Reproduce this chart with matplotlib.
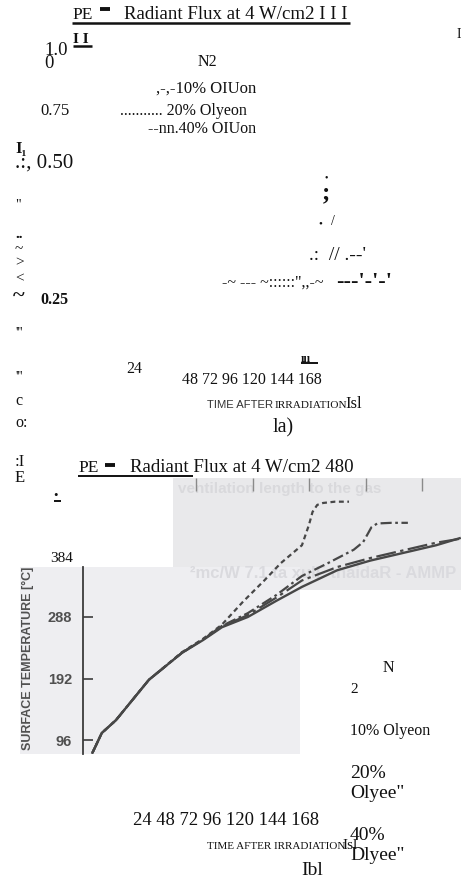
import matplotlib
matplotlib.use("Agg")
import matplotlib.pyplot as plt
from matplotlib.patches import Rectangle

# ---------------- data ----------------
series_labels = ["N2", "10% Oxygen", "20% Oxygen", "40% Oxygen"]
y_ticks = [96, 192, 288]
x_ticks_top = [48, 72, 96, 120, 144]

time_n2 = [4, 8, 14, 28, 42, 51, 59, 70, 82, 93, 108, 122, 136, 150, 160]
temp_n2 = [76, 107, 127, 190, 232, 252, 272, 288, 313, 335, 361, 376, 388, 400, 411]

time_o10 = [4, 8, 14, 28, 42, 51, 59, 68, 77, 84, 93, 96, 97.5, 99.5, 102, 107, 113]
temp_o10 = [76, 107, 127, 190, 233, 254, 276, 312, 345, 372, 400, 432, 452, 463, 466, 468, 468]

time_o20 = [4, 8, 14, 28, 42, 51, 59, 70, 82, 93, 104, 115, 119, 121, 122.5, 125, 131, 138]
temp_o20 = [76, 107, 127, 190, 232, 253, 274, 294, 322, 352, 372, 393, 405, 418, 428, 434, 435, 435]

time_o40 = [4, 8, 14, 28, 42, 51, 59, 70, 82, 93, 108, 122, 136, 150, 160]
temp_o40 = [76, 107, 127, 190, 232, 253, 273, 291, 318, 345, 366, 380, 392, 404, 410]

# ---------------- figure ----------------
W, H = 461, 880
fig = plt.figure(figsize=(W / 100, H / 100), dpi=100)
bg = fig.add_axes([0, 0, 1, 1])
bg.set_xlim(0, W)
bg.set_ylim(H, 0)
bg.axis("off")

SERIF = ["Liberation Serif", "DejaVu Serif"]
SANS = ["Liberation Sans", "DejaVu Sans"]
INK = "#111111"


def T(x, y, s, size, family=SERIF, **kw):
    kw.setdefault("color", INK)
    kw.setdefault("ha", "left")
    kw.setdefault("va", "baseline")
    return bg.text(x, y, s, fontsize=size, family=family, **kw)


def uline(x0, x1, y, lw=1.6):
    bg.plot([x0, x1], [y, y], color=INK, lw=lw, solid_capstyle="butt")


# ---- panel (a): OCR text remnants ----
T(72, 19, "PE", 12.5)
uline(100, 110, 9, lw=2.8)
T(124, 19, "Radiant Flux at 4 W/cm2 I I I", 13.6)
uline(72, 350, 23, lw=1.8)
T(73, 43, "I I", 11, weight="bold")
uline(73, 92, 46, lw=1.8)
T(457, 38, "I", 10)
T(44, 55, "1.0", 13.5)
T(44, 68, "0", 13.5)
T(198, 66, "N2", 11.5)
T(256, 92.5, ",-,-10% OIUon", 12, ha="right")
T(40, 115, "0.75", 12)
T(120, 115, "........... 20% Olyeon", 11.5)
T(256, 133, "--nn.40% OIUon", 11.5, ha="right")
T(15, 153, "I\u2081", 12, weight="bold")
T(15, 168, ".:, 0.50", 15)
T(322, 199, ";", 18, weight="bold")
T(324.5, 180, "\u2022", 7)
T(15, 208, "\"", 10)
T(318, 226, "\u2022", 8)
T(331, 225, "/", 10)
T(15, 238, "..", 11, weight="bold")
T(15, 253, "~", 11)
T(15, 266, ">", 11)
T(15, 282, "<", 11)
T(13, 302, "~", 16, weight="bold")
T(40, 304, "0.25", 11.5, weight="bold")
T(309, 260, ".:  // .--'", 14)
T(222, 287, "-~ --- ~::::::\",,-~", 11.5)
T(336, 287, "---'-'-'", 16, weight="bold")
T(15, 337, "'''", 10)
T(301, 362, "\u0131\u0131\u0131", 8.5, weight="bold")
uline(301, 318, 363.5, lw=1.4)
T(126, 373, "24", 11.5)
T(15, 380, "'''", 10)
T(182, 384, "48 72 96 120 144 168", 11.5)
T(15, 405, "c", 11.5)
T(207, 408, "TIME AFTER", 8.1, family=SANS, color="#333333")
T(275, 408, "IRRADIATION", 8.1)
T(345, 408, "Isl", 12)
T(15, 427, "o:", 11.5)
T(273, 432, "la)", 14.5)

# ---- panel (b) ----
T(15, 466, ":I", 12)
T(15, 482, "E", 12)
T(78, 472, "PE", 12.5)
uline(105, 115, 465, lw=2.8)
T(130, 472, "Radiant Flux at 4 W/cm2 480", 13.6)
uline(78, 193, 476, lw=1.4)
T(53, 499, "\u2022", 9)
uline(54, 61, 501, lw=1.4)
T(50, 562, "384", 11)

# scanned background patches
top_patch = Rectangle((173, 478), 288, 112, facecolor="#e9e9eb", edgecolor="none", zorder=0)
left_patch = Rectangle((20, 567), 280, 187, facecolor="#eeeef1", edgecolor="none", zorder=0)
bg.add_patch(top_patch)
bg.add_patch(left_patch)
# faint neighbouring / bleed-through text of the scan
T(178, 493, "ventilation length to the gas", 11, family=SANS, weight="bold",
  color="#d9d9dc", zorder=1)
T(456, 578, "\u00b2mc/W 7.1 ta xulF tnaidaR - AMMP", 12, family=SANS, weight="bold",
  color="#dadade", zorder=1, ha="right")

bg.text(28, 658, "SURFACE TEMPERATURE [\u00b0C]", fontsize=9, family=SANS, weight="bold",
        color="#505050", rotation=90, ha="center", va="center")

# data axes placed on the scanned plot area
px_left, px_right, px_top, px_bottom = 83, 461, 478, 754
sec_per_px = 24 / 56.5
deg_per_px = 96 / 61.5
x_max = (px_right - px_left) * sec_per_px
y_min = 288 - (px_bottom - 617) * deg_per_px
y_max = 288 + (617 - px_top) * deg_per_px
ax = fig.add_axes([px_left / W, 1 - px_bottom / H, (px_right - px_left) / W, (px_bottom - px_top) / H])
ax.set_facecolor("none")
ax.set_xlim(0, x_max)
ax.set_ylim(y_min, y_max)
for s in ["top", "right", "bottom"]:
    ax.spines[s].set_visible(False)
ax.spines["left"].set_color("#3c3c3c")
ax.spines["left"].set_linewidth(1.3)
ax.spines["left"].set_bounds(y_min, 288 + (617 - 567) * deg_per_px)

ax.set_yticks(y_ticks)
ax.set_yticklabels([str(v) for v in y_ticks])
ax.tick_params(axis="y", direction="in", length=7, width=1.2, color="#3c3c3c",
               labelsize=10.5, labelcolor="#505050", pad=8)
for lab in ax.get_yticklabels():
    lab.set_family(SANS)
    lab.set_weight("bold")
ax.xaxis.tick_top()
ax.set_xticks(x_ticks_top)
ax.set_xticklabels([])
ax.tick_params(axis="x", direction="in", length=9, width=1.0, color="#8a8a8a")

line_color = "#474747"
ax.plot(time_n2, temp_n2, color=line_color, lw=1.7, ls="-", label=series_labels[0])
ax.plot(time_o10, temp_o10, color=line_color, lw=1.6, ls=(0, (2.2, 1.6)), label=series_labels[1])
ax.plot(time_o20, temp_o20, color=line_color, lw=1.6, ls=(0, (5, 1.6, 1.2, 1.6)), label=series_labels[2])
ax.plot(time_o40, temp_o40, color=line_color, lw=1.6, ls=(0, (9, 2, 1.5, 2)), label=series_labels[3])

# OCR text remnants at lower right
T(383, 672, "N", 11.5)
T(350, 693, "2", 11)
T(350, 735, "10% Olyeon", 11.5)
T(350, 778, "20%", 14)
T(350, 798, "Olyee\"", 14)
T(133, 825, "24 48 72 96 120 144 168", 13.4)
T(350, 840, "40%", 14)
T(207, 849, "TIME AFTER IRRADIATION", 8)
T(342, 849, "Isl", 11)
T(350, 860, "Dlyee\"", 14)
T(301, 875, "Ibl", 14)

fig.savefig("out.png", dpi=100)
